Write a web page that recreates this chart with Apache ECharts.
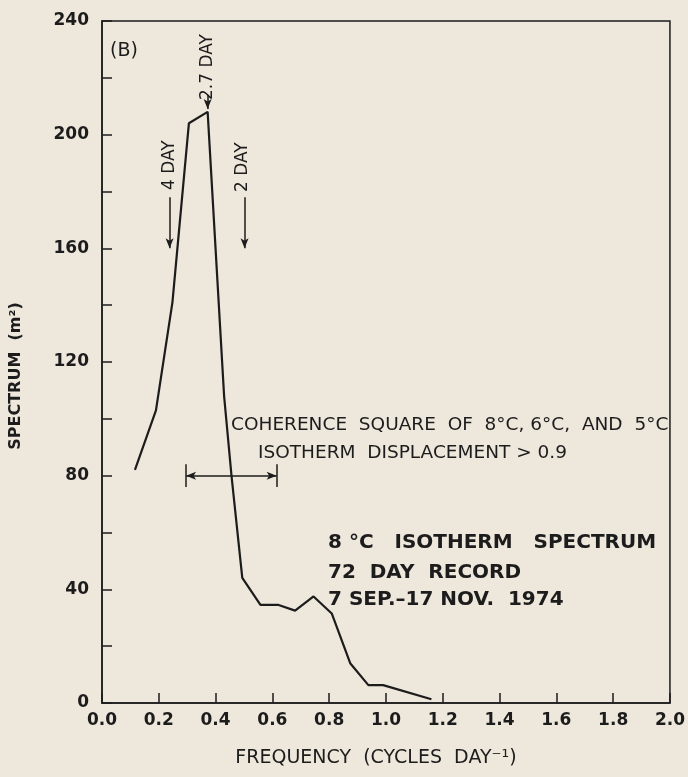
<!DOCTYPE html>
<html>
<head>
<meta charset="utf-8">
<script src="https://cdn.jsdelivr.net/npm/echarts@6/dist/echarts.min.js"></script>
<style>
  html, body { margin: 0; padding: 0; background: #eee7dc; }
  #chart { width: 688px; height: 777px; }
</style>
</head>
<body>
<div id="chart"></div>
<script>
// 8 C isotherm spectrum
var freq = [0.116, 0.19, 0.248, 0.306, 0.372, 0.43, 0.456, 0.494, 0.558, 0.622, 0.68, 0.745, 0.809, 0.874, 0.938, 0.99, 1.16];
var spectrum = [82, 103, 141, 204, 208, 108, 80, 44, 34.5, 34.5, 32.5, 37.5, 31.5, 14, 6.3, 6.3, 1.3];

// coherence > 0.9 band
var coherenceBand = [0.296, 0.615];
var coherenceLevel = 80;

// period markers: [frequency, arrow top, arrow bottom]
var arrowMarks = [
    [0.238, 178, 160],
    [0.372, 214, 209],
    [0.502, 178, 160]
];

var ink = '#1c1c1c';
var font = 'DejaVu Sans';

var lineData = freq.map(function (f, i) { return [f, spectrum[i]]; });

var marks = [];
arrowMarks.forEach(function (a) {
    marks.push([{ coord: [a[0], a[1]], symbol: 'none' }, { coord: [a[0], a[2]], symbol: 'arrow', symbolSize: [6, 10] }]);
});
marks.push([{ coord: [coherenceBand[0], coherenceLevel], symbol: 'arrow', symbolSize: [6, 10] },
            { coord: [coherenceBand[1], coherenceLevel], symbol: 'arrow', symbolSize: [6, 10] }]);
coherenceBand.forEach(function (f) {
    marks.push([{ coord: [f, coherenceLevel - 4], symbol: 'none' }, { coord: [f, coherenceLevel + 4], symbol: 'none' }]);
});

function txt(x, y, s, size, weight, rot) {
    return {
        type: 'text', x: x, y: y, rotation: rot || 0, silent: true,
        style: {
            text: s, fill: ink, fontFamily: font, fontSize: size, fontWeight: weight || 'normal',
            align: 'left', verticalAlign: 'middle'
        }
    };
}

var option = {
    backgroundColor: '#eee7dc',
    animation: false,
    grid: {
        left: 101, right: 16, top: 21, bottom: 74,
        show: true, borderColor: ink, borderWidth: 1.5
    },
    xAxis: {
        type: 'value', min: 0, max: 2, interval: 0.2,
        name: 'FREQUENCY  (CYCLES  DAY⁻¹)',
        nameLocation: 'middle', nameGap: 46,
        nameTextStyle: { color: ink, fontFamily: font, fontSize: 19, padding: [0, 20, 0, 0] },
        axisLine: { lineStyle: { color: ink, width: 1.5 } },
        axisTick: { inside: true, length: 10, lineStyle: { color: ink, width: 1.5 } },
        axisLabel: {
            color: ink, fontFamily: font, fontSize: 17, fontWeight: 'bold', margin: 9,
            formatter: function (v) { return v.toFixed(1); }
        },
        splitLine: { show: false }
    },
    yAxis: {
        type: 'value', min: 0, max: 240, interval: 20,
        name: 'SPECTRUM  (m²)',
        nameLocation: 'middle', nameGap: 78,
        nameTextStyle: { color: ink, fontFamily: font, fontSize: 16, fontWeight: 'bold', padding: [0, 28, 0, 0] },
        axisLine: { show: true, lineStyle: { color: ink, width: 1.5 } },
        axisTick: { inside: true, length: 10, lineStyle: { color: ink, width: 1.5 } },
        axisLabel: {
            color: ink, fontFamily: font, fontSize: 17, fontWeight: 'bold', margin: 13,
            formatter: function (v) { return v % 40 === 0 ? String(v) : ''; }
        },
        splitLine: { show: false }
    },
    series: [{
        type: 'line',
        data: lineData,
        symbol: 'none',
        lineStyle: { color: ink, width: 2.2 },
        markLine: {
            silent: true,
            label: { show: false },
            lineStyle: { color: ink, width: 1.5, type: 'solid' },
            data: marks
        }
    }],
    graphic: [
        txt(110, 51, '(B)', 19),
        txt(170, 190, '4 DAY', 17, 'normal', Math.PI / 2),
        txt(208, 100, '2.7 DAY', 17, 'normal', Math.PI / 2),
        txt(243, 192, '2 DAY', 17, 'normal', Math.PI / 2),
        txt(231, 425, 'COHERENCE  SQUARE  OF  8°C, 6°C,  AND  5°C', 18.5),
        txt(258, 453, 'ISOTHERM  DISPLACEMENT > 0.9', 18.5),
        txt(328, 543, '8 °C   ISOTHERM   SPECTRUM', 20, 'bold'),
        txt(328, 573, '72  DAY  RECORD', 20, 'bold'),
        txt(328, 600, '7 SEP.–17 NOV.  1974', 20, 'bold')
    ]
};

var myChart = echarts.init(document.getElementById('chart'));
myChart.setOption(option);
</script>
</body>
</html>
